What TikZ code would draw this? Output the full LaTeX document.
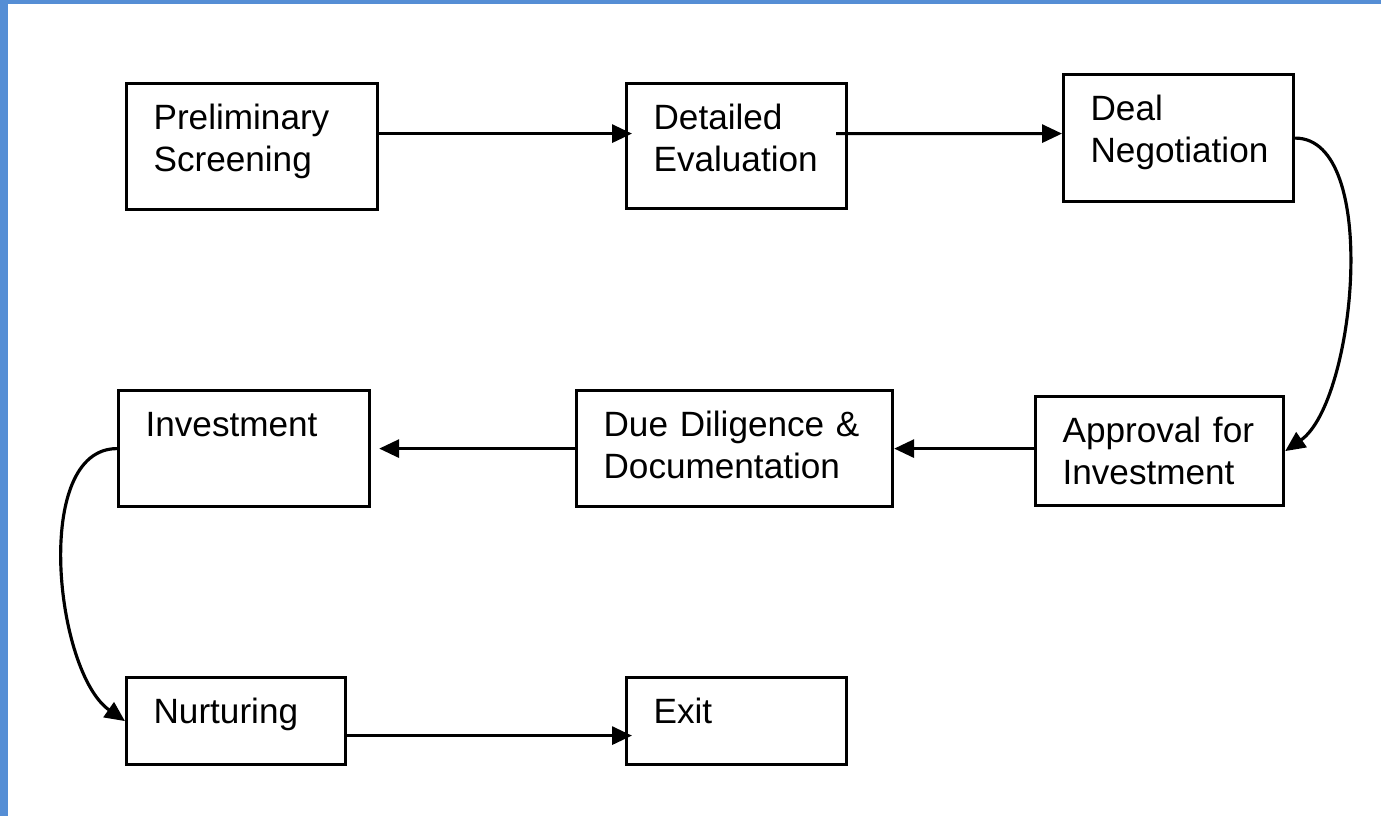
\documentclass[tikz,border=0pt]{standalone}
\usepackage{fontspec}
\setmainfont{Liberation Sans}
\usetikzlibrary{arrows.meta,positioning}
\definecolor{frameblue}{RGB}{85,142,213}

\begin{document}
\begin{tikzpicture}[
    stage/.style={rectangle, draw=black, line width=0.9pt, anchor=north west, align=left,
        inner xsep=0.27cm, inner ysep=0pt, text height=0.46cm, font=\fontsize{10}{12}\selectfont},
    flow/.style={-{Triangle[length=0.2cm, width=0.18cm]}, line width=0.9pt, black}
]
\useasboundingbox (0,0) rectangle (13.81,-8.16);

% Page frame
\fill[frameblue] (0,0) rectangle (0.08,-8.16);
\fill[frameblue] (0,0) rectangle (13.81,-0.035);

% First row
\node[stage, text width=1.97cm, text depth=0.80cm] (prelim) at (1.25,-0.82) {Preliminary\\Screening};
\node[stage, text width=1.66cm, text depth=0.79cm] (detailed) at (6.25,-0.82) {Detailed\\Evaluation};
\node[stage, text width=1.76cm, text depth=0.81cm] (deal) at (10.62,-0.73) {Deal\\Negotiation};

% Second row
\node[stage, text width=1.94cm, text depth=0.63cm] (approval) at (10.34,-3.95) {Approval~for\\Investment};
\node[stage, text width=2.62cm, text depth=0.70cm] (due) at (5.75,-3.89) {Due~Diligence~\&\\Documentation};
\node[stage, text width=1.97cm, text depth=0.70cm] (invest) at (1.17,-3.89) {Investment};

% Third row
\node[stage, text width=1.65cm, text depth=0.41cm] (nurture) at (1.25,-6.76) {Nurturing};
\node[stage, text width=1.66cm, text depth=0.41cm] (exit) at (6.25,-6.76) {Exit};

% Connectors
\draw[flow, shorten >=-0.07cm] ([yshift=0.13cm]prelim.east) -- ([yshift=0.125cm]detailed.west);
\draw[flow] ([xshift=-0.12cm, yshift=0.125cm]detailed.east) -- ([yshift=0.045cm]deal.west);
\draw[flow] (deal.east) to[out=0, in=35, looseness=0.7] (approval.east);
\draw[flow] (approval.west |- due.east) -- (due.east);
\draw[flow, shorten >=0.08cm] (due.west) -- (invest.east);
\draw[flow] (invest.west) to[out=180, in=145, looseness=0.8] (nurture.west);
\draw[flow, shorten >=-0.07cm] ([yshift=-0.145cm]nurture.east) -- ([yshift=-0.145cm]exit.west);

\end{tikzpicture}
\end{document}
